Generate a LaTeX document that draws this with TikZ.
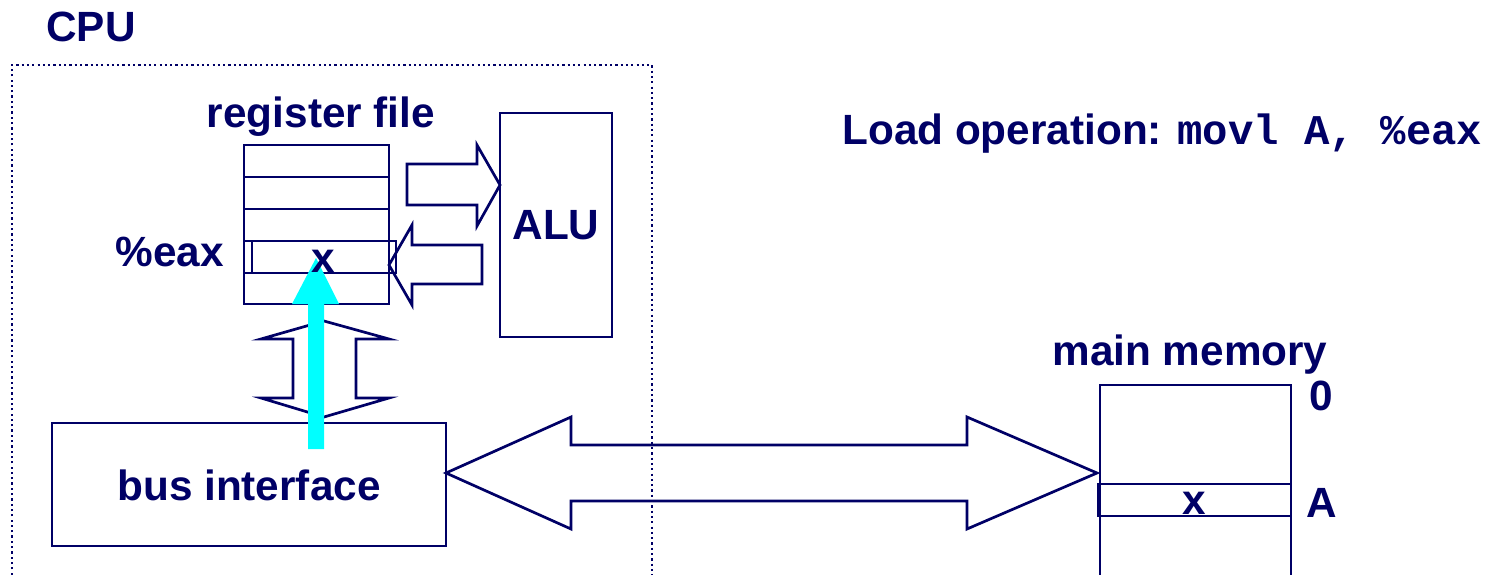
\documentclass[tikz,border=0pt]{standalone}
\usepackage{fontspec}
\setmainfont{Liberation Sans}
\newfontfamily\codefont{Liberation Mono}
\definecolor{inkblue}{RGB}{0,0,102}
\definecolor{flowcyan}{RGB}{0,255,255}
\begin{document}
\begin{tikzpicture}[x=1pt,y=-1pt,line width=2.7pt,
  lbl/.style={font=\fontsize{42.3}{50}\selectfont\bfseries,text=inkblue,inner sep=0,anchor=base},
  box/.style={draw=inkblue,inner sep=0,outer sep=0,anchor=north west},
  blockarrow/.style={draw=inkblue,line join=miter},
  cpuframe/.style={draw=inkblue,line width=2.2pt,dash pattern=on 2.2pt off 3.1pt}]
\useasboundingbox (0,0) rectangle (1488,575);
\clip (0,0) rectangle (1488,575);

% CPU enclosure
\node[lbl,anchor=base west] (cpu) at (45,42) {CPU};
\draw[cpuframe] (12,580) |- (652,65) -- (652,580);

% register file
\node[lbl] (rflabel) at (321,128) {register file};
\node[box,minimum width=145,minimum height=159] (rf) at (244,145) {};
\foreach \y in {177,209,241,273}
  \draw[inkblue] (rf.west |- 0,\y) -- (rf.east |- 0,\y);
\node[box,minimum width=144,minimum height=32] (eax) at (252,241) {};
\node[lbl,anchor=base east] (eaxlabel) at (225,266) {\%eax};

% ALU
\node[box,minimum width=112,minimum height=224] (alu) at (500,113) {};
\node[lbl] (alulabel) at (alu.center |- 0,239) {ALU};

% register file <-> ALU
\coordinate (toalu) at (500,185);
\coordinate (torf) at (389,265);
\draw[blockarrow] (407,164) -- (477,164) -- (477,145) -- (toalu)
  -- (477,226) -- (477,205) -- (407,205) -- cycle;
\draw[blockarrow] (482,245) -- (412,245) -- (412,225) -- (torf)
  -- (412,305) -- (412,284) -- (482,284) -- cycle;

% bus interface
\node[box,minimum width=394,minimum height=123] (bus) at (52,423) {};
\node[lbl] (buslabel) at (249,500) {bus interface};

% register file <-> bus interface
\coordinate (rftip) at (324,321);
\coordinate (bustip) at (324,417);
\draw[blockarrow] (rftip) -- (389,339) -- (356,339) -- (356,398) -- (389,398)
  -- (bustip) -- (261,398) -- (293,398) -- (293,339) -- (261,339) -- cycle;

% main memory
\node[lbl] (memlabel) at (1190,365) {main memory};
\node[box,minimum width=191,minimum height=230] (mem) at (1100,385) {};
\node[box,minimum width=193,minimum height=32] (memA) at (1098,484) {};
\node[lbl] (memx) at (1194,514) {x};
\node[lbl] (addr0) at (1321,410) {0};
\node[lbl] (addrA) at (1322,517) {A};

% system bus between bus interface and memory
\coordinate (busend) at (446,473);
\coordinate (memend) at (1097,473);
\draw[blockarrow] (busend) -- (571,417) -- (571,445) -- (967,445) -- (967,417)
  -- (memend) -- (967,529) -- (967,501) -- (571,501) -- (571,529) -- cycle;

% data flow of the load
\fill[flowcyan] (308,449) -- (308,304) -- (292,304) -- (316,258)
  -- (339,304) -- (324,304) -- (324,449) -- cycle;
\node[lbl] (regx) at (323,272) {x};

% instruction
\node[lbl,anchor=base west] (op) at (841,145) {Load operation: {\codefont movl A, \%eax}};
\end{tikzpicture}
\end{document}
